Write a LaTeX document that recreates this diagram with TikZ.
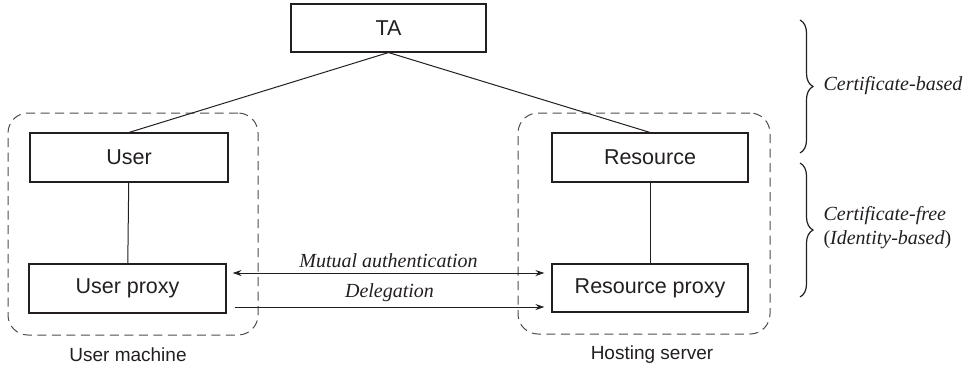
\documentclass[tikz,border=0pt]{standalone}
\usepackage{fontspec}
\setmainfont{Liberation Sans}
\newfontfamily\serifit{Liberation Serif}
\usetikzlibrary{arrows.meta,decorations.pathreplacing,calc}
\definecolor{ink}{RGB}{35,31,32}
\begin{document}
\begin{tikzpicture}[x=1pt,y=-1pt,
  every node/.style={text=ink},
  box/.style={draw=ink,line width=1.1pt,inner sep=0pt,font=\fontsize{21.5}{26}\selectfont},
  group/.style={draw=ink!80,line width=1pt,dash pattern=on 9pt off 5.5pt,rounded corners=20pt,inner sep=0pt},
  captxt/.style={font=\fontsize{19}{23}\selectfont},
  lab/.style={font=\serifit\itshape\fontsize{20}{24}\selectfont},
  link/.style={draw=ink,line width=1pt},
  arr/.style={draw=ink,line width=1pt,-{Stealth[length=9pt,width=6pt]}},
  brc/.style={draw=ink,line width=1.2pt,decoration={brace,amplitude=13pt},decorate}]
\useasboundingbox (0,0) rectangle (965,370);
% groups
\node[group,minimum width=250pt,minimum height=222pt] (gl) at (133,224) {};
\node[group,minimum width=252pt,minimum height=221pt] (gr) at (644,223.5) {};
% boxes
\node[box,minimum width=195pt,minimum height=48pt] (ta) at (388.5,28) {TA};
\node[box,minimum width=198pt,minimum height=49pt] (user) at (129,157.5) {User};
\node[box,minimum width=197pt,minimum height=49pt] (uproxy) at (127.5,288.5) {User proxy};
\node[box,minimum width=196pt,minimum height=49pt] (res) at (650,157.5) {Resource};
\node[box,minimum width=196pt,minimum height=48pt] (rproxy) at (650,288) {Resource proxy};
% captions
\node[captxt] (um) at (128,355) {User machine};
\node[captxt] (hs) at (652,355) {Hosting server};
% links
\draw[link] (ta.south) -- (user.north);
\draw[link] (ta.south) -- (res.north);
\draw[link] (user) -- (uproxy);
\draw[link] (res) -- (rproxy);
% arrows
\coordinate (a1) at ($(uproxy.east)+(6,-15.5)$);
\coordinate (b1) at ($(rproxy.west)+(-7,-15)$);
\coordinate (a2) at ($(uproxy.east)+(8,18.5)$);
\coordinate (b2) at ($(rproxy.west)+(-7,19)$);
\draw[arr,{Stealth[length=9pt,width=6pt]}-{Stealth[length=9pt,width=6pt]}] (a1) -- node[lab,above=1pt] (ma) {Mutual authentication} (b1);
\draw[arr] (a2) -- node[lab,above=1pt] (dl) {Delegation} (b2);
% braces
\coordinate (br1t) at (800,20);
\coordinate (br1b) at (800,153);
\coordinate (br2t) at (800,163);
\coordinate (br2b) at (800,297);
\draw[brc] (br1t) -- (br1b);
\draw[brc] (br2t) -- (br2b);
\node[lab,anchor=west] (cb) at (820,86) {Certificate-based};
\node[lab,anchor=west,align=left] (cf) at (820,228) {Certificate-free\\{\upshape(}Identity-based{\upshape)}};
\end{tikzpicture}
\end{document}
